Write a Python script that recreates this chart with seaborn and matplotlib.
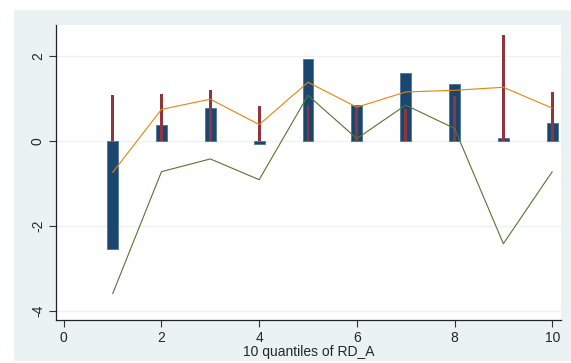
"""Quantile chart of RD_A, Stata s2color look."""

import matplotlib

matplotlib.use("Agg", force=True)

import matplotlib.pyplot as plt
import pandas as pd
import seaborn as sns
from matplotlib.patches import Rectangle

# values
quantiles = [1, 2, 3, 4, 5, 6, 7, 8, 9, 10]
blue_bars = [-2.54, 0.38, 0.77, -0.06, 1.93, 0.85, 1.60, 1.34, 0.07, 0.43]
red_spikes = [1.08, 1.12, 1.20, 0.83, 0.86, 0.80, 0.75, 1.07, 2.51, 1.15]
orange_line = [-0.74, 0.75, 0.99, 0.39, 1.39, 0.80, 1.16, 1.20, 1.27, 0.78]
green_line = [-3.60, -0.72, -0.42, -0.91, 1.08, 0.06, 0.85, 0.30, -2.42, -0.72]
x_ticks = [0, 2, 4, 6, 8, 10]
y_ticks = [-4, -2, 0, 2]

NAVY = "#1A476F"
MAROON = "#90353B"
GREEN = "#55752F"
ORANGE = "#E8830F"
BG = "#EAF2F3"

data = pd.DataFrame(
    {
        "q": quantiles,
        "blue": blue_bars,
        "red": red_spikes,
        "orange": orange_line,
        "green": green_line,
    }
)

sns.set_style("white")
plt.rcParams["font.family"] = ["Liberation Sans Narrow", "Liberation Sans", "DejaVu Sans"]

fig = plt.figure(figsize=(5.71, 3.63), dpi=100, facecolor="white")
fig.patches.append(
    Rectangle(
        (14 / 571, 2 / 363), (571 - 14) / 571, (361 - 10) / 363,
        transform=fig.transFigure, facecolor=BG, edgecolor="none", zorder=-10,
    )
)
ax = fig.add_axes([56 / 571, 1 - 320 / 363, (561 - 56) / 571, (320 - 25) / 363])
ax.set_facecolor("white")

sns.barplot(
    data=data, x="q", y="blue", native_scale=True, width=0.22,
    color=NAVY, saturation=1, edgecolor="#4F7396", linewidth=0.6, ax=ax, zorder=2,
)
sns.barplot(
    data=data, x="q", y="red", native_scale=True, width=0.06,
    color=MAROON, saturation=1, linewidth=0, ax=ax, zorder=3,
)
sns.lineplot(data=data, x="q", y="orange", color=ORANGE, linewidth=0.8, ax=ax, zorder=4)
sns.lineplot(data=data, x="q", y="green", color=GREEN, linewidth=0.8, ax=ax, zorder=5)

ax.set_xlim(-0.16, 10.18)
ax.set_ylim(-4.22, 2.74)
ax.set_xticks(x_ticks)
ax.set_yticks(y_ticks)
ax.set_yticklabels([str(t) for t in y_ticks], rotation=90, va="center")
ax.set_xlabel("10 quantiles of RD_A", fontsize=10, labelpad=0)
ax.set_ylabel("")
ax.tick_params(axis="both", direction="out", length=5, width=0.8, color="#333333",
               labelsize=10, pad=3, bottom=True, left=True)

ax.grid(axis="y", color=BG, linewidth=1.0, zorder=0)
ax.set_axisbelow(True)
for side in ("top", "right"):
    ax.spines[side].set_visible(False)
for side in ("left", "bottom"):
    ax.spines[side].set_color("#222222")
    ax.spines[side].set_linewidth(0.9)

fig.savefig("out.png", dpi=100)
